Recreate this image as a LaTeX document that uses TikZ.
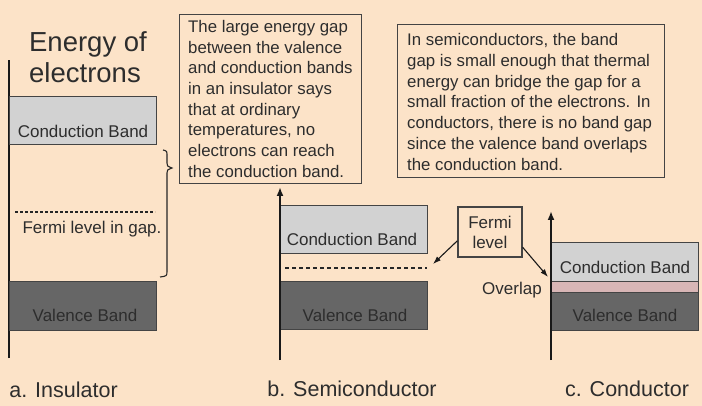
\documentclass[tikz,border=0pt]{standalone}
\usepackage{fontspec}
\setmainfont{Liberation Sans}
\usetikzlibrary{arrows.meta}
\definecolor{bg}{HTML}{FCE3C8}
\definecolor{ink}{HTML}{2D2D2D}
\definecolor{cfill}{HTML}{D2D2D2}
\definecolor{vfill}{HTML}{666666}
\definecolor{ofill}{HTML}{D8B6B6}
\definecolor{edge}{HTML}{444444}
\tikzset{
  band/.style={draw=edge, line width=1.2pt, inner sep=0pt, anchor=north west},
  cband/.style={band, fill=cfill},
  vband/.style={band, fill=vfill},
  oband/.style={band, fill=ofill},
  lbl/.style={text=ink, inner sep=0pt, anchor=base, font=\fontsize{17}{20}\selectfont},
  notebox/.style={draw=edge, line width=1.2pt, inner sep=0pt, anchor=north west},
  notetext/.style={text=ink, align=left, inner sep=0pt, anchor=north west, font=\fontsize{16.8}{20.7}\selectfont},
  axisline/.style={draw=black!90, line width=2.6pt},
  axisarrow/.style={axisline, -{Latex[length=9pt,width=7pt]}},
  farrow/.style={draw=black!90, line width=1.1pt, -{Latex[length=8pt,width=5.5pt]}},
  fermiline/.style={draw=black!85, line width=1.2pt},
}
\begin{document}
\begin{tikzpicture}[x=1pt,y=-1pt]
\fill[bg] (0,0) rectangle (702,406);
\useasboundingbox (0,0) rectangle (702,406);

% ---------- a. Insulator ----------
\coordinate (ibot) at (9,358);
\coordinate (itop) at (9,60);
\draw[axisline] (ibot) -- (itop);
\node[lbl, font=\fontsize{27.5}{32}\selectfont] (title1) at (88,52) {Energy of};
\node[lbl, font=\fontsize{27.5}{32}\selectfont] (title2) at (85,83) {electrons};
\node[cband, minimum width=147pt, minimum height=48pt] (ic) at (9,96) {};
\node[lbl] (iclbl) at (83,137.5) {Conduction Band};
\coordinate (ifl1) at (15,212);
\coordinate (ifl2) at (155,212);
\draw[fermiline, dash pattern=on 3pt off 2pt] (ifl1) -- (ifl2);
\node[lbl] (ifermi) at (92,233.5) {Fermi level in gap.};
\node[vband, minimum width=147pt, minimum height=49pt] (iv) at (9,281) {};
\node[lbl] (ivlbl) at (85,321.5) {Valence Band};
\draw[draw=black!85, line width=1.1pt]
  (163,150) .. controls (167,151) .. (167,156) -- (167,163)
  .. controls (167,166) .. (172,168) .. controls (167,170) .. (167,173)
  -- (167,271) .. controls (167,276) .. (160,277);
\node[lbl, font=\fontsize{21.5}{24}\selectfont] (ilab) at (63.5,397) {a. Insulator};

% ---------- note boxes ----------
\node[notebox, minimum width=182pt, minimum height=169pt] (note1box) at (179,14) {};
\node[notetext] (note1) at (188,20)
 {The large energy gap\\between the valence\\and conduction bands\\in an insulator says\\that at ordinary\\temperatures, no\\electrons can reach\\the conduction band.};
\node[notebox, minimum width=267pt, minimum height=153pt] (note2box) at (397,24) {};
\node[notetext] (note2) at (407,33.5)
 {In semiconductors, the band\\gap is small enough that thermal\\energy can bridge the gap for a\\small fraction of the electrons. In\\conductors, there is no band gap\\since the valence band overlaps\\the conduction band.};

% ---------- b. Semiconductor ----------
\coordinate (sbot) at (280,360);
\coordinate (stop) at (280,187);
\node[cband, minimum width=147pt, minimum height=48pt] (sc) at (280,205) {};
\node[lbl] (sclbl) at (352,245.5) {Conduction Band};
\coordinate (sfl1) at (285,268);
\coordinate (sfl2) at (427,268);
\draw[fermiline, dash pattern=on 4pt off 3pt] (sfl1) -- (sfl2);
\node[vband, minimum width=147pt, minimum height=48pt] (sv) at (280,281) {};
\node[lbl] (svlbl) at (355,321.5) {Valence Band};
\draw[axisarrow] (sbot) -- (stop);
\node[lbl, font=\fontsize{21.5}{24}\selectfont] (slab) at (352,396.7) {b. Semiconductor};

% ---------- Fermi level box ----------
\node[draw=edge, line width=1.2pt, text=ink, align=center, minimum width=64pt, minimum height=50pt, inner sep=0pt, font=\fontsize{17}{20}\selectfont] (fermi) at (490,232) {Fermi\\level};
\coordinate (sfermi) at (433,264);
\coordinate (cfermi) at (548,277);
\draw[farrow] (fermi.195) -- (sfermi);
\draw[farrow] (fermi.-25) -- (cfermi);

% ---------- c. Conductor ----------
\coordinate (cbot) at (551,360);
\coordinate (ctop) at (551,211);
\node[cband, minimum width=147pt, minimum height=39pt] (cc) at (551,242) {};
\node[lbl] (cclbl) at (625,274) {Conduction Band};
\node[oband, minimum width=147pt, minimum height=11pt] (co) at (551,281) {};
\node[vband, minimum width=147pt, minimum height=38pt] (cv) at (551,292) {};
\node[lbl] (cvlbl) at (625,321.7) {Valence Band};
\node[lbl] (overlap) at (512,295) {Overlap};
\draw[axisarrow] (cbot) -- (ctop);
\node[lbl, font=\fontsize{21.5}{24}\selectfont] (clab) at (627,396.7) {c. Conductor};
\end{tikzpicture}
\end{document}
